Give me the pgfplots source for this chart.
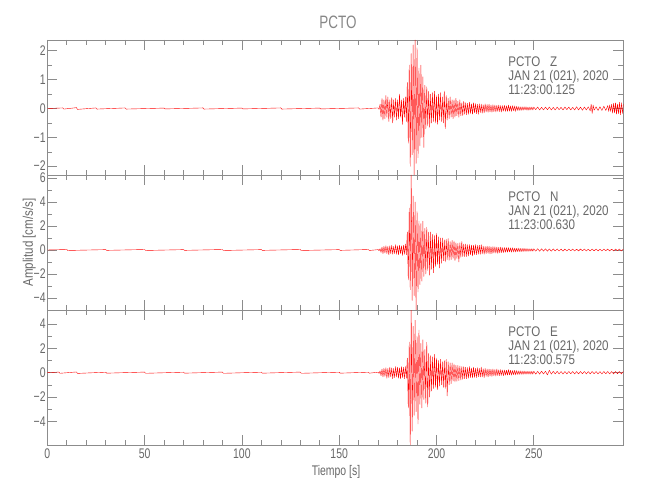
\documentclass[border=0pt]{standalone}
\usepackage{fontspec}
\setmainfont{Liberation Sans}[FakeStretch=0.75]
\newfontfamily\widefont{Liberation Sans}[FakeStretch=0.83]
\usepackage{pgfplots}
\pgfplotsset{compat=1.18}
\definecolor{axiscol}{RGB}{140,140,140}
\definecolor{textcol}{RGB}{105,105,105}
\definecolor{titlecol}{RGB}{135,135,135}
\definecolor{tracecol}{RGB}{255,0,0}
\newcommand{\tfont}{\fontsize{14}{14}\selectfont}
\newcommand{\afont}{\widefont\fontsize{14}{14}\selectfont}
\pgfplotsset{
  seis/.style={
    scale only axis, width=576bp, height=135bp,
    xmin=0, xmax=296,
    xtick={0,50,100,150,200,250},
    minor x tick num=4, minor y tick num=1,
    tick align=inside,
    major tick length=10bp, minor tick length=5bp,
    axis line style={axiscol, line width=0.6pt},
    every tick/.style={axiscol, line width=0.6pt},
    tick label style={font=\tfont, text=textcol},
    yticklabel style={anchor=east, inner sep=0pt, xshift=-1.5bp},
    xticklabel style={anchor=north, inner sep=0pt, yshift=-4bp},
    clip=true,
  },
  trace/.style={draw=tracecol, color=tracecol, line width=0.4pt, line join=round, line cap=round},
}
\newcommand{\stamp}[2]{%
  \node[anchor=base west, font=\afont, text=textcol, inner sep=0pt] at (rel axis cs:0.8,0.802) {PCTO\hspace{10bp}#1};
  \node[anchor=base west, font=\afont, text=textcol, inner sep=0pt] at (rel axis cs:0.8,0.701) {JAN 21 (021), 2020};
  \node[anchor=base west, font=\afont, text=textcol, inner sep=0pt] at (rel axis cs:0.8,0.593) {11:23:00.#2};
}
\begin{document}
\begin{tikzpicture}
\fill[white] (0,0) rectangle (650bp,500bp);
\path[use as bounding box] (0,0) rectangle (650bp,500bp);
% ---------------- Z ----------------
\begin{axis}[seis, at={(47.3bp,325bp)}, anchor=south west,
  ymin=-2.3, ymax=2.37, ytick={-2,-1,0,1,2}, yticklabels={\raisebox{1.5bp}{−2},−1,0,1,2},
  xticklabels={}]
\addplot[trace] coordinates {
(0,0)(8,0.02)(8.5,-0.02)(15,0.03)(15.5,-0.03)(25,0.02)(25.5,-0.02)(40,0.02)(40.5,-0.02)(60,0.015)(60.5,-0.015)(80,0.02)(80.5,-0.02)(100,0.015)(100.5,-0.015)(120,0.02)(120.5,-0.02)(140,0.015)(140.5,-0.015)(160,0.02)(160.5,-0.02)(170,0.02)(170.5,-0.03)
(171,0.15)(171.5,-0.3)(172,0.35)(172.5,-0.4)(173,0.3)(173.5,-0.35)(174,0.45)(174.5,-0.3)(175,0.4)(175.5,-0.45)(176,0.3)(176.5,-0.35)(177,0.38)(177.5,-0.5)(178,0.3)(178.5,-0.3)(179,0.35)(179.5,-0.4)(180,0.3)(180.5,-0.35)(181,0.5)(181.5,-0.3)(182,0.3)(182.5,-0.55)(183,0.35)(183.5,-0.3)(184,0.4)(184.5,-0.45)
(185,0.9)(185.5,-1.2)(186,1.5)(186.5,-2.0)(187,1.9)(187.5,-1.6)(188,2.2)(188.5,-2.3)(189,2.37)(189.5,-1.9)(190,2.1)(190.5,-1.7)(191,1.4)(191.5,-1.3)(192,1.5)(192.5,-1.0)(193,1.1)(193.5,-1.35)(194,0.8)(194.5,-0.7)(195,0.75)(195.5,-0.6)(196,0.6)(196.5,-0.65)(197,0.5)(197.5,-0.5)(198,0.55)(198.5,-0.45)(199,0.6)(199.5,-0.5)(200,0.45)(200.5,-0.55)(201,0.5)(201.5,-0.4)(202,0.55)(202.5,-0.45)(203,0.4)(203.5,-0.5)(204,0.6)(204.5,-0.7)(205,0.45)(205.5,-0.4)(206,0.35)(206.5,-0.35)(207,0.4)(207.5,-0.3)(208,0.3)(208.5,-0.35)(209,0.3)(209.5,-0.3)(210,0.35)(210.5,-0.25)(211,0.25)(211.5,-0.3)(212,0.3)(212.5,-0.25)(213,0.2)(213.5,-0.25)(214,0.25)(214.5,-0.2)(215,0.2)
(215.5,-0.22)(216,0.18)(216.5,-0.2)(217,0.22)(217.5,-0.17)(218,0.16)(218.5,-0.2)(219,0.2)(219.5,-0.15)(220,0.17)(220.5,-0.18)(221,0.15)(221.5,-0.2)(222,0.16)(222.5,-0.14)(223,0.15)(223.5,-0.16)(224,0.13)(224.5,-0.15)(225,0.16)(225.5,-0.12)(226,0.14)(226.5,-0.13)(227,0.15)(227.5,-0.12)(228,0.12)(228.5,-0.13)(229,0.13)(229.5,-0.11)(230,0.12)(230.5,-0.12)(231,0.11)(231.5,-0.1)(232,0.12)(232.5,-0.11)(233,0.1)(233.5,-0.12)(234,0.1)(234.5,-0.09)(235,0.11)(235.5,-0.1)(236,0.09)(236.5,-0.1)(237,0.12)(237.5,-0.09)(238,0.09)(238.5,-0.1)(239,0.1)(239.5,-0.08)(240,0.09)(240.5,-0.1)(241,0.08)(241.5,-0.07)(242,0.07)(242.5,-0.07)(243,0.06)(243.5,-0.07)(244,0.06)(244.5,-0.06)(245,0.06)(245.5,-0.05)(246,0.06)(246.5,-0.06)(247,0.05)(247.5,-0.06)(248,0.05)(248.5,-0.05)(249,0.05)(249.5,-0.05)
(250,0.05)(251,-0.04)(252,0.05)(253,-0.05)(254,0.04)(255,-0.05)(256,0.05)(257,-0.04)(258,0.05)(259,-0.05)(260,0.04)(261,-0.05)(262,0.05)(263,-0.04)(264,0.04)(265,-0.05)(266,0.05)(267,-0.04)(268,0.05)(269,-0.05)(270,0.04)(271,-0.05)(272,0.06)(273,-0.05)(274,0.05)(275,-0.06)(276,0.05)(277,-0.05)(278,0.06)(279,-0.08)(279.5,0.15)(280,-0.17)(280.5,0.12)(281,-0.06)(282,0.06)(283,-0.07)(284,0.06)(285,-0.07)(286,0.08)(287,-0.07)(288,0.1)(288.5,-0.1)(289,0.12)(289.5,-0.1)(290,0.15)(290.5,-0.16)(291,0.18)(291.5,-0.15)(292,0.2)(292.5,-0.2)(293,0.15)(293.5,-0.18)(294,0.22)(294.5,-0.22)(295,0.2)(295.5,-0.17)(296,0.15)
};
\stamp{Z}{125}
\end{axis}
% ---------------- N ----------------
\begin{axis}[seis, at={(47.3bp,190bp)}, anchor=south west,
  ymin=-5.0, ymax=6.25, ytick={-4,-2,0,2,4,6}, yticklabels={−4,−2,0,2,4,\raisebox{-2bp}{6}},
  xticklabels={}]
\addplot[trace] coordinates {
(0,0)(10,0.04)(10.5,-0.04)(30,0.03)(30.5,-0.03)(50,0.04)(50.5,-0.04)(70,0.03)(70.5,-0.03)(90,0.04)(90.5,-0.04)(110,0.03)(110.5,-0.03)(130,0.04)(130.5,-0.04)(150,0.03)(150.5,-0.03)(165,0.04)(165.5,-0.04)(170,0.03)(170.5,-0.05)
(171,0.1)(171.5,-0.2)(172,0.25)(172.5,-0.3)(173,0.3)(173.5,-0.25)(174,0.35)(174.5,-0.3)(175,0.3)(175.5,-0.4)(176,0.35)(176.5,-0.3)(177,0.4)(177.5,-0.35)(178,0.3)(178.5,-0.3)(179,0.45)(179.5,-0.35)(180,0.35)(180.5,-0.4)(181,0.4)(181.5,-0.3)(182,0.35)(182.5,-0.45)(183,0.4)(183.5,-0.35)(184,0.5)(184.5,-0.4)
(185,1.5)(185.5,-2.5)(186,3.5)(186.5,-3.3)(187,6.25)(187.5,-4.2)(188,4.5)(188.5,-3.8)(189,4.0)(189.5,-5.0)(190,3.2)(190.5,-3.5)(191,2.4)(191.5,-2.9)(192,2.2)(192.5,-2.6)(193,2.4)(193.5,-2.2)(194,1.8)(194.5,-2.0)(195,1.9)(195.5,-1.7)(196,1.5)(196.5,-2.1)(197,1.5)(197.5,-1.6)(198,1.3)(198.5,-1.9)(199,1.2)(199.5,-1.4)(200,1.4)(200.5,-1.2)(201,1.1)(201.5,-1.5)(202,1.0)(202.5,-1.1)(203,1.0)(203.5,-0.9)(204,0.85)(204.5,-1.0)(205,0.9)(205.5,-0.8)(206,0.95)(206.5,-0.85)(207,0.7)(207.5,-0.8)(208,0.8)(208.5,-0.7)(209,0.75)(209.5,-0.9)(210,0.6)(210.5,-0.7)(211,0.55)(211.5,-1.0)(212,0.6)(212.5,-0.6)(213,0.7)(213.5,-0.55)(214,0.5)(214.5,-0.55)(215,0.5)
(215.5,-0.55)(216,0.45)(216.5,-0.5)(217,0.45)(217.5,-0.4)(218,0.42)(218.5,-0.5)(219,0.4)(219.5,-0.38)(220,0.45)(220.5,-0.4)(221,0.38)(221.5,-0.35)(222,0.4)(222.5,-0.36)(223,0.45)(223.5,-0.32)(224,0.33)(224.5,-0.35)(225,0.3)(225.5,-0.3)(226,0.32)(226.5,-0.28)(227,0.3)(227.5,-0.32)(228,0.27)(228.5,-0.3)(229,0.28)(229.5,-0.25)(230,0.27)(230.5,-0.26)(231,0.25)(231.5,-0.28)(232,0.23)(232.5,-0.24)(233,0.25)(233.5,-0.22)(234,0.2)(234.5,-0.22)(235,0.21)(235.5,-0.19)(236,0.2)(236.5,-0.18)(237,0.2)(237.5,-0.17)(238,0.18)(238.5,-0.18)(239,0.19)(239.5,-0.16)(240,0.16)(240.5,-0.17)(241,0.15)(241.5,-0.15)(242,0.16)(242.5,-0.14)(243,0.14)(243.5,-0.14)(244,0.13)(244.5,-0.13)(245,0.14)(245.5,-0.12)(246,0.12)(246.5,-0.11)(247,0.11)(247.5,-0.11)(248,0.1)(248.5,-0.1)(249,0.11)(249.5,-0.1)
(250,0.1)(251,-0.1)(252,0.11)(253,-0.1)(254,0.1)(255,-0.09)(256,0.1)(257,-0.1)(258,0.09)(259,-0.1)(260,0.09)(261,-0.08)(262,0.09)(263,-0.08)(264,0.08)(265,-0.09)(266,0.08)(267,-0.08)(268,0.08)(269,-0.07)(270,0.08)(271,-0.08)(272,0.07)(273,-0.08)(274,0.08)(275,-0.07)(276,0.08)(277,-0.08)(278,0.07)(279,-0.08)(280,0.08)(281,-0.07)(282,0.08)(283,-0.08)(284,0.07)(285,-0.08)(286,0.08)(287,-0.07)(288,0.08)(289,-0.08)(290,0.07)(291,-0.08)(292,0.08)(293,-0.07)(294,0.08)(295,-0.08)(296,0.07)
};
\stamp{N}{630}
\end{axis}
% ---------------- E ----------------
\begin{axis}[seis, at={(47.3bp,55bp)}, anchor=south west,
  ymin=-5.93, ymax=5.14, ytick={-4,-2,0,2,4}, yticklabels={−4,−2,0,2,4},
  xticklabels={0,50,100,150,200,250}]
\addplot[trace] coordinates {
(0,0)(6,0.05)(6.5,-0.05)(15,0.06)(15.5,-0.06)(30,0.04)(30.5,-0.04)(50,0.05)(50.5,-0.05)(70,0.04)(70.5,-0.04)(90,0.05)(90.5,-0.05)(110,0.04)(110.5,-0.04)(130,0.05)(130.5,-0.05)(150,0.04)(150.5,-0.04)(165,0.04)(165.5,-0.04)(170,0.04)(170.5,-0.06)
(171,0.15)(171.5,-0.25)(172,0.3)(172.5,-0.35)(173,0.35)(173.5,-0.3)(174,0.4)(174.5,-0.45)(175,0.35)(175.5,-0.4)(176,0.45)(176.5,-0.35)(177,0.4)(177.5,-0.5)(178,0.35)(178.5,-0.4)(179,0.5)(179.5,-0.35)(180,0.45)(180.5,-0.45)(181,0.4)(181.5,-0.5)(182,0.5)(182.5,-0.4)(183,0.45)(183.5,-0.5)(184,0.5)(184.5,-0.45)
(185,1.2)(185.5,-2.9)(186,2.5)(186.5,-5.93)(187,5.14)(187.5,-4.8)(188,3.8)(188.5,-3.5)(189,4.3)(189.5,-3.2)(190,3.0)(190.5,-4.2)(191,3.5)(191.5,-2.6)(192,2.4)(192.5,-2.9)(193,2.7)(193.5,-2.2)(194,1.9)(194.5,-2.5)(195,2.5)(195.5,-2.8)(196,1.6)(196.5,-2.0)(197,1.4)(197.5,-1.5)(198,1.3)(198.5,-1.3)(199,1.5)(199.5,-1.2)(200,1.2)(200.5,-1.4)(201,1.0)(201.5,-1.1)(202,1.1)(202.5,-1.0)(203,0.9)(203.5,-1.2)(204,1.0)(204.5,-1.3)(205,1.1)(205.5,-1.9)(206,0.9)(206.5,-1.0)(207,0.8)(207.5,-0.9)(208,0.8)(208.5,-0.7)(209,0.7)(209.5,-0.75)(210,0.6)(210.5,-0.7)(211,0.6)(211.5,-0.65)(212,0.55)(212.5,-0.6)(213,0.5)(213.5,-0.55)(214,0.5)(214.5,-0.5)(215,0.45)
(215.5,-0.5)(216,0.42)(216.5,-0.45)(217,0.5)(217.5,-0.4)(218,0.38)(218.5,-0.42)(219,0.45)(219.5,-0.38)(220,0.36)(220.5,-0.4)(221,0.4)(221.5,-0.34)(222,0.35)(222.5,-0.36)(223,0.45)(223.5,-0.35)(224,0.32)(224.5,-0.4)(225,0.35)(225.5,-0.3)(226,0.3)(226.5,-0.35)(227,0.3)(227.5,-0.28)(228,0.28)(228.5,-0.3)(229,0.3)(229.5,-0.26)(230,0.26)(230.5,-0.28)(231,0.3)(231.5,-0.24)(232,0.24)(232.5,-0.25)(233,0.25)(233.5,-0.22)(234,0.22)(234.5,-0.25)(235,0.22)(235.5,-0.2)(236,0.2)(236.5,-0.2)(237,0.25)(237.5,-0.18)(238,0.2)(238.5,-0.2)(239,0.18)(239.5,-0.17)(240,0.2)(240.5,-0.18)(241,0.18)(241.5,-0.15)(242,0.15)(242.5,-0.15)(243,0.15)(243.5,-0.14)(244,0.14)(244.5,-0.14)(245,0.14)(245.5,-0.12)(246,0.12)(246.5,-0.12)(247,0.12)(247.5,-0.12)(248,0.11)(248.5,-0.12)(249,0.11)(249.5,-0.12)
(250,0.12)(251,-0.12)(252,0.11)(253,-0.12)(254,0.12)(255,-0.11)(256,0.12)(257,-0.18)(258,0.2)(259,-0.12)(260,0.11)(261,-0.1)(262,0.11)(263,-0.1)(264,0.1)(265,-0.11)(266,0.1)(267,-0.1)(268,0.1)(269,-0.09)(270,0.1)(271,-0.1)(272,0.09)(273,-0.1)(274,0.1)(275,-0.09)(276,0.1)(277,-0.1)(278,0.09)(279,-0.1)(280,0.1)(281,-0.09)(282,0.1)(283,-0.1)(284,0.09)(285,-0.1)(286,0.1)(287,-0.09)(288,0.1)(289,-0.1)(290,0.09)(291,-0.1)(292,0.1)(293,-0.09)(294,0.1)(295,-0.1)(296,0.09)
};
\stamp{E}{575}
\end{axis}
\node[font=\fontsize{18}{18}\selectfont, text=titlecol] at (338bp,478bp) {PCTO};
\node[font=\widefont\fontsize{14}{14}\selectfont, text=textcol, rotate=90] at (29.3bp,257.5bp) {Amplitud [cm/s/s]};
\node[font=\tfont, text=textcol] at (336bp,28bp) {Tiempo [s]};
\end{tikzpicture}
\end{document}
